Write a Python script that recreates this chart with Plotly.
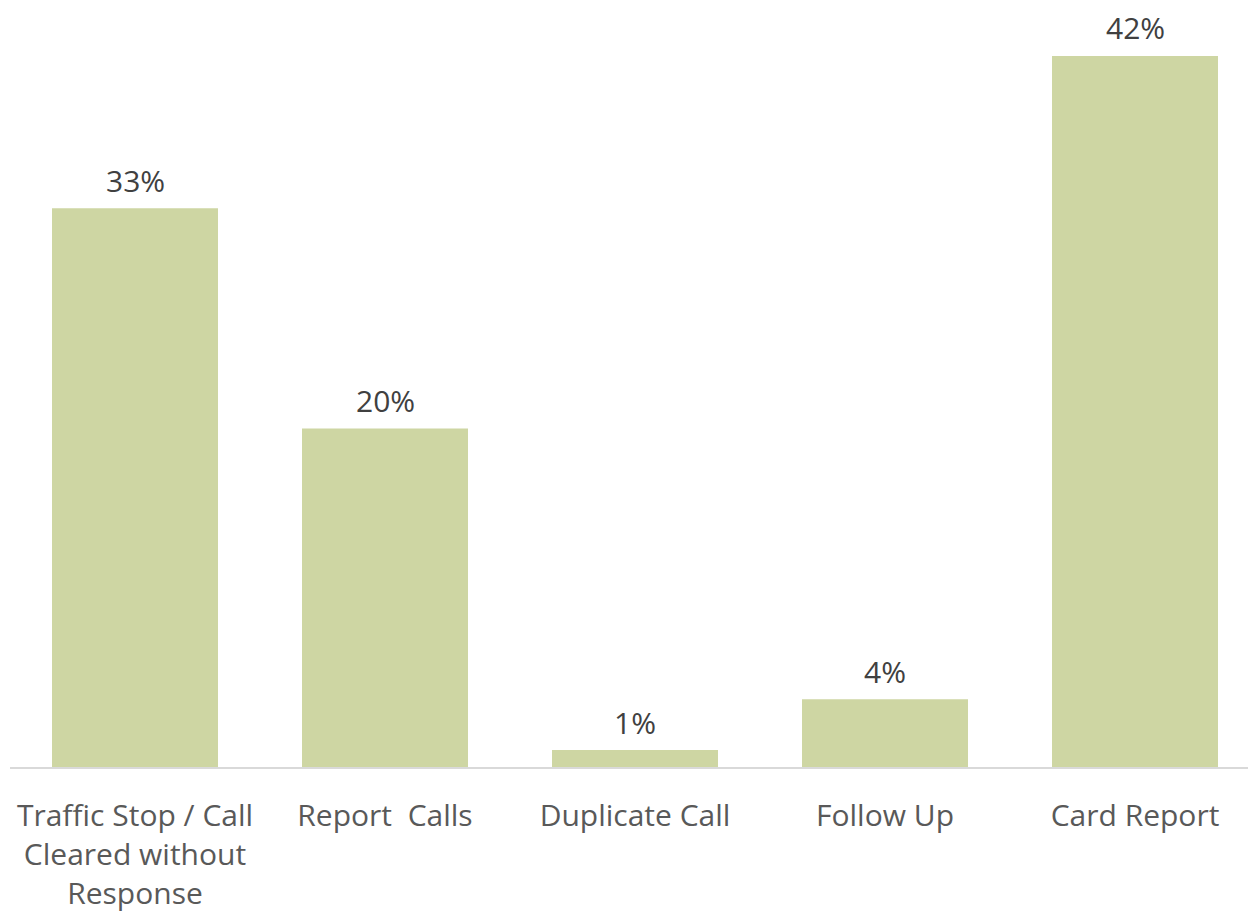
import plotly.graph_objects as go

categories = ["Traffic Stop / Call<br>Cleared without<br>Response", "Report  Calls", "Duplicate Call", "Follow Up", "Card Report"]
values = [33, 20, 1, 4, 42]
labels = [f"{v}%" for v in values]

fig = go.Figure(go.Bar(
    x=categories, y=values,
    marker=dict(color="#CED6A3", line=dict(width=0)),
    cliponaxis=False,
))
for c, v, t in zip(categories, values, labels):
    fig.add_annotation(x=c, y=v, text=t, showarrow=False, yanchor="middle", yshift=28,
                       font=dict(family="Open Sans", size=30, color="#404040"))
fig.update_layout(
    width=1256, height=915,
    margin=dict(l=2, r=4, t=0, b=156),
    paper_bgcolor="white", plot_bgcolor="white",
    bargap=0.336, showlegend=False,
    font=dict(family="Open Sans", size=30, color="#595959"),
)
fig.update_xaxes(showline=True, linecolor="#D9D9D9", linewidth=2, ticks="outside", ticklen=21, tickcolor="rgba(0,0,0,0)",
                 tickfont=dict(family="Open Sans", size=30, color="#595959"), showgrid=False)
fig.update_yaxes(visible=False, range=[0, 44.83], showgrid=False)
fig.write_html("out.html")
